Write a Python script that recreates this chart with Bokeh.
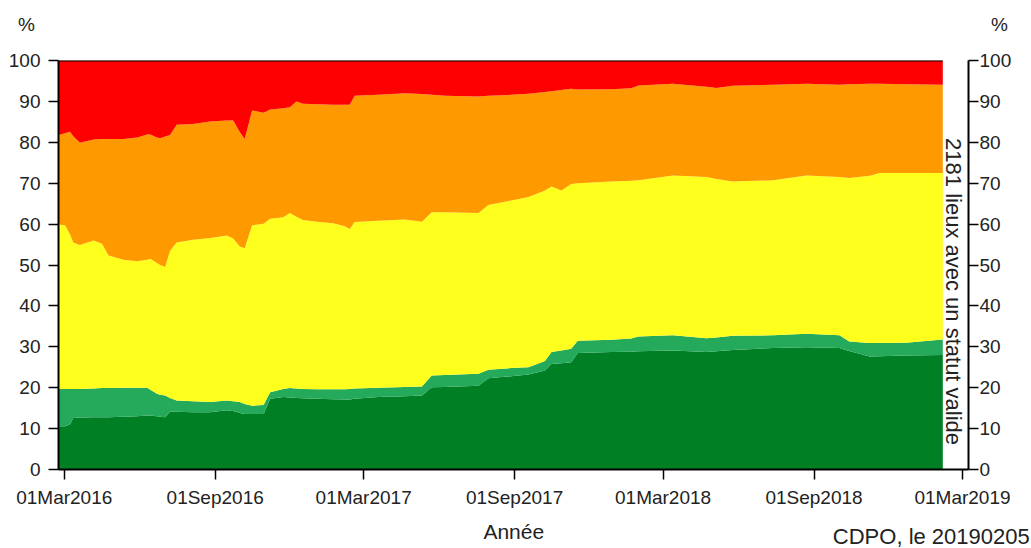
import math
import pandas as pd
from bokeh.plotting import figure
from bokeh.models import (LinearAxis, FixedTicker, DatetimeTickFormatter, Label,
                          ColumnDataSource, Range1d)
from bokeh.embed import file_html
from bokeh.resources import INLINE

# ---------------- data ----------------
dates = [
    "2016-02-23", "2016-03-02", "2016-03-08", "2016-03-12", "2016-03-20", "2016-04-06",
    "2016-04-16", "2016-04-24", "2016-05-12", "2016-05-29", "2016-06-10", "2016-06-14",
    "2016-06-22", "2016-06-26", "2016-07-02", "2016-07-08", "2016-07-16", "2016-08-05",
    "2016-08-26", "2016-09-15", "2016-09-23", "2016-10-01", "2016-10-07", "2016-10-16",
    "2016-10-30", "2016-11-07", "2016-11-23", "2016-12-01", "2016-12-09", "2016-12-17",
    "2017-01-03", "2017-01-23", "2017-02-06", "2017-02-12", "2017-02-18", "2017-03-19",
    "2017-04-20", "2017-05-11", "2017-05-23", "2017-06-08", "2017-07-19", "2017-07-31",
    "2017-08-28", "2017-09-18", "2017-10-08", "2017-10-16", "2017-10-28", "2017-11-09",
    "2017-11-17", "2017-12-28", "2018-01-21", "2018-01-30", "2018-03-13", "2018-04-23",
    "2018-05-05", "2018-05-25", "2018-07-13", "2018-08-23", "2018-10-02", "2018-10-14",
    "2018-11-08", "2018-11-20", "2018-12-22", "2019-02-05",
]

# share of places (%) per status class
pct_vert_fonce = [
    10.6, 10.6, 11.0, 12.6, 12.7, 12.8, 12.8, 12.8, 12.9, 13.0, 13.2, 13.2,
    13.0, 12.9, 12.8, 14.2, 14.1, 14.0, 14.0, 14.5, 14.3, 13.8, 13.6, 13.6,
    13.6, 17.3, 17.7, 17.6, 17.5, 17.4, 17.3, 17.2, 17.1, 17.1, 17.3, 17.7,
    17.9, 18.1, 20.1, 20.2, 20.5, 22.3, 22.8, 23.2, 24.2, 25.8, 26.0, 26.2,
    28.5, 28.7, 28.8, 28.9, 29.1, 28.7, 28.9, 29.2, 29.7, 29.9, 29.7, 29.0,
    27.6, 27.7, 27.9, 28.0,
]
pct_vert_clair = [
    9.1, 9.1, 8.7, 7.1, 7.0, 7.0, 7.1, 7.1, 7.1, 7.0, 6.8, 6.3,
    5.5, 5.4, 5.3, 3.3, 2.8, 2.7, 2.5, 2.4, 2.4, 2.7, 2.4, 2.0,
    2.2, 1.6, 2.0, 2.3, 2.3, 2.3, 2.3, 2.4, 2.5, 2.6, 2.5, 2.3,
    2.3, 2.2, 2.9, 2.9, 2.9, 2.1, 2.0, 1.8, 2.3, 2.9, 3.1, 3.3,
    3.0, 3.0, 3.2, 3.6, 3.7, 3.4, 3.4, 3.5, 3.1, 3.3, 3.1, 2.3,
    3.3, 3.2, 3.1, 3.8,
]
pct_jaune = [
    40.2, 40.0, 37.8, 35.8, 35.2, 36.2, 35.3, 32.4, 31.3, 30.9, 31.3, 32.0,
    32.0, 31.7, 31.4, 36.0, 38.6, 39.5, 40.1, 40.3, 39.8, 38.0, 38.1, 44.1,
    44.3, 42.4, 42.0, 42.8, 42.0, 41.3, 41.0, 40.6, 39.9, 39.1, 40.7, 40.8,
    40.9, 40.3, 39.9, 39.8, 39.3, 40.3, 41.0, 41.6, 41.7, 40.5, 39.1, 40.3,
    38.5, 38.7, 38.6, 38.2, 39.1, 39.4, 38.7, 37.7, 37.9, 38.7, 38.7, 40.0,
    40.9, 41.6, 41.5, 40.7,
]
pct_orange = [
    21.9, 22.5, 25.1, 26.0, 25.0, 24.7, 25.6, 28.5, 29.5, 30.3, 30.6, 30.4,
    30.7, 31.0, 31.9, 28.3, 28.8, 28.3, 28.5, 28.1, 28.8, 28.0, 26.7, 28.1,
    27.1, 26.7, 26.6, 25.9, 28.2, 28.4, 28.7, 29.0, 29.7, 30.4, 30.9, 30.8,
    30.9, 31.2, 28.7, 28.5, 28.5, 26.7, 25.8, 25.3, 24.1, 23.3, 24.6, 23.3,
    22.9, 22.6, 22.6, 23.2, 22.4, 22.1, 22.3, 23.4, 23.4, 22.4, 22.6, 22.9,
    22.5, 21.8, 21.7, 21.6,
]
pct_rouge = [
    18.2, 17.8, 17.4, 18.5, 20.1, 19.3, 19.2, 19.2, 19.2, 18.8, 18.1, 18.1,
    18.8, 19.0, 18.6, 18.2, 15.7, 15.5, 14.9, 14.7, 14.7, 17.5, 19.2, 12.2,
    12.8, 12.0, 11.7, 11.4, 10.0, 10.6, 10.7, 10.8, 10.8, 10.8, 8.6, 8.4,
    8.0, 8.2, 8.4, 8.6, 8.8, 8.6, 8.4, 8.1, 7.7, 7.5, 7.2, 6.9,
    7.1, 7.0, 6.8, 6.1, 5.7, 6.4, 6.7, 6.2, 5.9, 5.7, 5.9, 5.8,
    5.7, 5.7, 5.8, 5.9,
]

series_names = ["vert_fonce", "vert_clair", "jaune", "orange", "rouge"]
series_colors = ["#007F24", "#25AA5C", "#FFFF1E", "#FF9900", "#FF0000"]

x_tick_dates = ["2016-03-01", "2016-09-01", "2017-03-01", "2017-09-01",
                "2018-03-01", "2018-09-01", "2019-03-01"]
y_ticks = [0, 10, 20, 30, 40, 50, 60, 70, 80, 90, 100]

x_label = "Année"
y_unit = "%"
right_note = "2181 lieux avec un statut valide"
credit = "CDPO, le 20190205"

# ---------------- build ----------------
src = ColumnDataSource(dict(
    date=pd.to_datetime(dates),
    vert_fonce=pct_vert_fonce,
    vert_clair=pct_vert_clair,
    jaune=pct_jaune,
    orange=pct_orange,
    rouge=pct_rouge,
    total=[a + b + c + d + e for a, b, c, d, e in
           zip(pct_vert_fonce, pct_vert_clair, pct_jaune, pct_orange, pct_rouge)],
))

FONT = "Liberation Sans"
TICK_SIZE = "19px"
LABEL_SIZE = "21px"
TEXT_COLOR = "#222222"

x_start = pd.Timestamp("2016-02-23 00:00")
x_end = pd.Timestamp("2019-03-08 08:00")

p = figure(width=1031, height=548, x_axis_type="datetime",
           x_range=Range1d(x_start, x_end), y_range=Range1d(0, 100),
           output_backend="svg", toolbar_location=None,
           min_border_left=58, min_border_right=62,
           min_border_top=60, min_border_bottom=79)
p.outline_line_color = None
p.xgrid.visible = False
p.ygrid.visible = False
p.background_fill_color = "white"
p.border_fill_color = "white"

p.varea_stack(stackers=series_names, x="date", color=series_colors, source=src)
p.line(x="date", y="total", source=src, line_color="black", line_width=2)

tick_ms = [pd.Timestamp(d).value // 10**6 for d in x_tick_dates]
fmt = "%d%b%Y"
p.xaxis.ticker = FixedTicker(ticks=tick_ms)
p.xaxis.formatter = DatetimeTickFormatter(
    milliseconds=fmt, seconds=fmt, minsec=fmt, minutes=fmt, hourmin=fmt,
    hours=fmt, days=fmt, months=fmt, years=fmt)
p.yaxis.ticker = FixedTicker(ticks=y_ticks)

right_axis = LinearAxis(ticker=FixedTicker(ticks=y_ticks))
p.add_layout(right_axis, "right")

for ax in p.xaxis + p.yaxis:
    ax.axis_line_color = "black"
    ax.axis_line_width = 2
    ax.major_tick_line_color = "black"
    ax.major_tick_line_width = 1.5
    ax.major_tick_out = 10
    ax.major_tick_in = 0
    ax.minor_tick_out = 0
    ax.minor_tick_in = 0
    ax.major_label_text_font = FONT
    ax.major_label_text_font_size = TICK_SIZE
    ax.major_label_text_color = TEXT_COLOR

p.xaxis.major_label_standoff = 7
p.yaxis[0].major_label_standoff = 8
right_axis.major_label_standoff = 1


def lab(x, y, text, place, **kw):
    opts = dict(text_font=FONT, text_font_size=LABEL_SIZE, text_color=TEXT_COLOR)
    opts.update(kw)
    p.add_layout(Label(x=x, y=y, text=text, **opts), place)


# texts outside the frame are put in side panels so that they are not clipped
lab(pd.Timestamp("2016-01-15"), 108.8, y_unit, "above", text_align="center",
    text_baseline="alphabetic", text_font_size=TICK_SIZE)
lab(pd.Timestamp("2017-08-31"), -15.1, x_label, "above", text_align="center",
    text_baseline="alphabetic")
lab(pd.Timestamp("2019-04-15"), 108.8, y_unit, "right", text_align="center",
    text_baseline="alphabetic", text_font_size=TICK_SIZE)
lab(pd.Timestamp("2019-05-22"), -16.4, credit, "below", text_align="right",
    text_baseline="alphabetic", text_font_size="22px")
# note inside the frame, right of the data
lab(pd.Timestamp("2019-02-18"), 43.5, right_note, "center", text_align="center",
    text_baseline="middle", angle=-math.pi / 2, text_font_size="22px")

open("out.html", "w").write(file_html(p, INLINE))
